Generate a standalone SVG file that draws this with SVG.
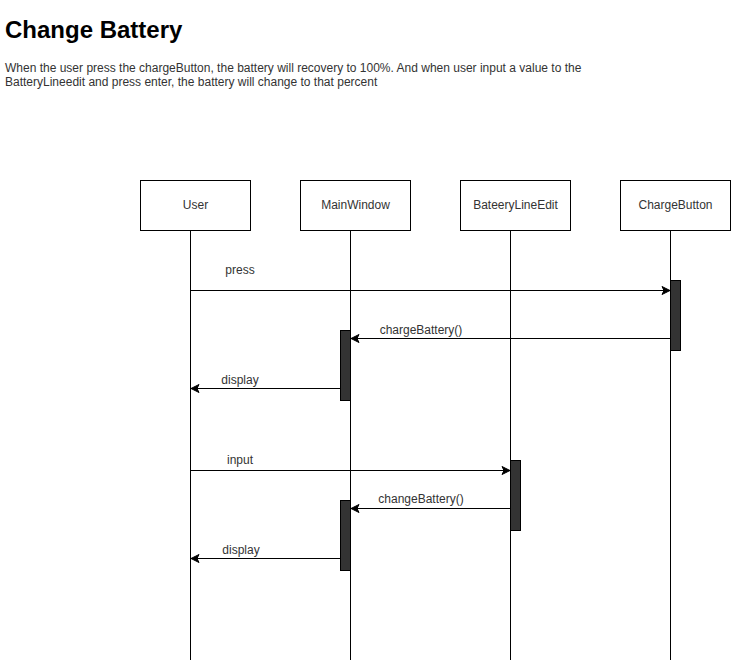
<svg xmlns="http://www.w3.org/2000/svg" width="731" height="662" viewBox="0 0 731 662">
<style>
.box{fill:#fff;stroke:#000;stroke-width:1}
.life{stroke:#000;stroke-width:1;fill:none}
.act{fill:#333;stroke:#000;stroke-width:1}
.msg{stroke:#000;stroke-width:1;fill:none;marker-end:url(#arr)}
.t{font-family:"Liberation Sans",Arial,sans-serif;font-size:12px;fill:#333}
.c{text-anchor:middle}
</style>
<defs>
<marker id="arr" viewBox="0 0 10 10" refX="9" refY="5" markerWidth="10" markerHeight="10" markerUnits="userSpaceOnUse" orient="auto">
<path d="M1,1 L9,5 L1,9 L3,5 Z" fill="#000" stroke="#000" stroke-width="1"/>
</marker>
</defs>
<rect width="731" height="662" fill="#fff"/>
<text x="5" y="38" font-family="'Liberation Sans',Arial,sans-serif" font-size="24" font-weight="bold" fill="#000">Change Battery</text>
<text class="t" x="5" y="72">When the user press the chargeButton, the battery will recovery to 100%. And when user input a value to the</text>
<text class="t" x="5" y="86">BatteryLineedit and press enter, the battery will change to that percent</text>
<g id="user"><rect class="box" x="140.5" y="180.5" width="110" height="50"/><text class="t c" x="195.5" y="209">User</text><line class="life" x1="190.5" y1="230.5" x2="190.5" y2="660"/></g>
<g id="mainwindow"><rect class="box" x="300.5" y="180.5" width="110" height="50"/><text class="t c" x="355.5" y="209">MainWindow</text><line class="life" x1="350.5" y1="230.5" x2="350.5" y2="660"/></g>
<g id="bateerylineedit"><rect class="box" x="460.5" y="180.5" width="110" height="50"/><text class="t c" x="515.5" y="209">BateeryLineEdit</text><line class="life" x1="510.5" y1="230.5" x2="510.5" y2="660"/></g>
<g id="chargebutton"><rect class="box" x="620.5" y="180.5" width="110" height="50"/><text class="t c" x="675.5" y="209">ChargeButton</text><line class="life" x1="670.5" y1="230.5" x2="670.5" y2="660"/></g>
<g id="activations">
<rect class="act" x="670.5" y="280.5" width="10" height="70"/>
<rect class="act" x="340.5" y="330.5" width="10" height="70"/>
<rect class="act" x="510.5" y="460.5" width="10" height="70"/>
<rect class="act" x="340.5" y="500.5" width="10" height="70"/>
</g>
<g id="connectors">
<line class="msg" x1="190.5" y1="290.5" x2="670" y2="290.5"/>
<text class="t c" x="240" y="274">press</text>
<line class="msg" x1="670" y1="338.5" x2="351" y2="338.5"/>
<text class="t c" x="421" y="334">chargeBattery()</text>
<line class="msg" x1="340" y1="388.5" x2="191" y2="388.5"/>
<text class="t c" x="240" y="384">display</text>
<line class="msg" x1="190.5" y1="470.5" x2="510" y2="470.5"/>
<text class="t c" x="240" y="464">input</text>
<line class="msg" x1="510" y1="508.5" x2="351" y2="508.5"/>
<text class="t c" x="421" y="503">changeBattery()</text>
<line class="msg" x1="340" y1="558.5" x2="191" y2="558.5"/>
<text class="t c" x="241" y="554">display</text>
</g>
</svg>
